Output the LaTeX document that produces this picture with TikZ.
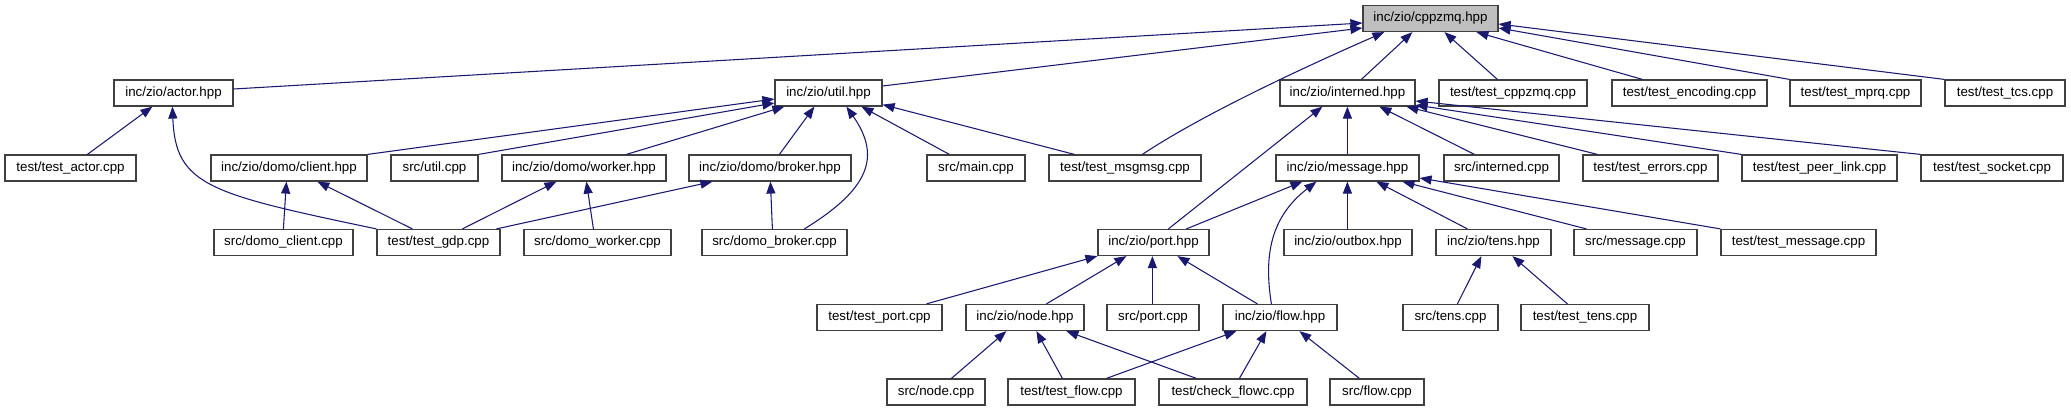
\documentclass[tikz,border=0pt]{standalone}
\usepackage{fontspec}
\setmainfont{Liberation Sans}
\usetikzlibrary{arrows.meta,calc}
\definecolor{edgec}{HTML}{191970}
\definecolor{boxline}{HTML}{404040}
\definecolor{hilite}{HTML}{BFBFBF}
\tikzset{
  box/.style={draw=boxline, line width=0.9pt, fill=white, inner sep=0pt,
    minimum height=26*0.75pt, font=\fontsize{10}{12}\selectfont},
  w/.style={minimum width=#1*0.75pt},
  edge/.style={draw=edgec, line width=0.8pt, {Triangle[length=9pt,width=6.8pt]}-}
}
\begin{document}
\begin{tikzpicture}[x=0.75pt,y=-0.75pt]
\useasboundingbox (0,0) rectangle (2071,411);
% row 0
\node[box,w=135,fill=hilite] (cppzmq) at (1430.5,18.5) {inc/zio/cppzmq.hpp};
% row 1
\node[box,w=119] (actor) at (173.5,93) {inc/zio/actor.hpp};
\node[box,w=107] (util) at (828.5,93) {inc/zio/util.hpp};
\node[box,w=135] (interned) at (1347.5,93) {inc/zio/interned.hpp};
\node[box,w=148] (tcppzmq) at (1513,93) {test/test\_cppzmq.cpp};
\node[box,w=155] (tenc) at (1689.5,93) {test/test\_encoding.cpp};
\node[box,w=131] (tmprq) at (1855.5,93) {test/test\_mprq.cpp};
\node[box,w=120] (ttcs) at (2005,93) {test/test\_tcs.cpp};
% row 2
\node[box,w=131] (tactor) at (70.5,168) {test/test\_actor.cpp};
\node[box,w=156] (client) at (289,168) {inc/zio/domo/client.hpp};
\node[box,w=87] (utilcpp) at (434.5,168) {src/util.cpp};
\node[box,w=164] (worker) at (584,168) {inc/zio/domo/worker.hpp};
\node[box,w=162] (broker) at (770,168) {inc/zio/domo/broker.hpp};
\node[box,w=98] (maincpp) at (976,168) {src/main.cpp};
\node[box,w=152] (msgmsg) at (1125,168) {test/test\_msgmsg.cpp};
\node[box,w=143] (message) at (1347.5,168) {inc/zio/message.hpp};
\node[box,w=115] (internedcpp) at (1501.5,168) {src/interned.cpp};
\node[box,w=135] (terrors) at (1650.5,168) {test/test\_errors.cpp};
\node[box,w=155] (tpeer) at (1819.5,168) {test/test\_peer\_link.cpp};
\node[box,w=142] (tsocket) at (1992,168) {test/test\_socket.cpp};
% row 3
\node[box,w=139] (dclient) at (283.5,242.5) {src/domo\_client.cpp};
\node[box,w=123] (gdp) at (438.5,242.5) {test/test\_gdp.cpp};
\node[box,w=147] (dworker) at (597.5,242.5) {src/domo\_worker.cpp};
\node[box,w=145] (dbroker) at (774.5,242.5) {src/domo\_broker.cpp};
\node[box,w=111] (port) at (1153.5,242.5) {inc/zio/port.hpp};
\node[box,w=128] (outbox) at (1348,242.5) {inc/zio/outbox.hpp};
\node[box,w=115] (tens) at (1493.5,242.5) {inc/zio/tens.hpp};
\node[box,w=123] (msgcpp) at (1635.5,242.5) {src/message.cpp};
\node[box,w=155] (tmessage) at (1798.5,242.5) {test/test\_message.cpp};
% row 4
\node[box,w=125] (tport) at (879.5,317.5) {test/test\_port.cpp};
\node[box,w=118] (node) at (1025,317.5) {inc/zio/node.hpp};
\node[box,w=92] (portcpp) at (1153,317.5) {src/port.cpp};
\node[box,w=114] (flow) at (1280,317.5) {inc/zio/flow.hpp};
\node[box,w=95] (tenscpp) at (1450.5,317.5) {src/tens.cpp};
\node[box,w=128] (ttens) at (1585,317.5) {test/test\_tens.cpp};
% row 5
\node[box,w=98] (nodecpp) at (936,392) {src/node.cpp};
\node[box,w=127] (tflow) at (1071.5,392) {test/test\_flow.cpp};
\node[box,w=148] (checkflowc) at (1233,392) {test/check\_flowc.cpp};
\node[box,w=94] (flowcpp) at (1377,392) {src/flow.cpp};

% edges to cppzmq
\draw[edge] ($(cppzmq.west)+(0,4.5)$) -- ($(actor.east)+(0,-4)$);
\draw[edge] ($(cppzmq.west)+(0,9.5)$) -- ($(util.east)+(0,-7)$);
\draw[edge] ($(cppzmq.south west)+(22,0)$) .. controls +(-80,35) and +(60,-40) .. ($(msgmsg.north west)+(94,0)$);
\draw[edge] ($(cppzmq.south west)+(50,0)$) -- ($(interned.north west)+(82,0)$);
\draw[edge] ($(cppzmq.south west)+(82,0)$) -- ($(tcppzmq.north west)+(59,0)$);
\draw[edge] ($(cppzmq.south west)+(114,0)$) -- ($(tenc.north west)+(31,0)$);
\draw[edge] ($(cppzmq.east)+(0,9.5)$) -- (tmprq.north west);
\draw[edge] ($(cppzmq.east)+(0,5.5)$) -- (ttcs.north west);
% actor
\draw[edge] ($(actor.south west)+(39,0)$) -- ($(tactor.north west)+(83,0)$);
\draw[edge] ($(actor.south west)+(59,0)$) .. controls +(3,79) and +(-167,-35) .. (gdp.north west);
% util
\draw[edge] ($(util.west)+(0,6)$) -- (client.north east);
\draw[edge] ($(util.west)+(0,10)$) -- (utilcpp.north east);
\draw[edge] ($(util.south west)+(10,0)$) -- ($(worker.north west)+(125,0)$);
\draw[edge] ($(util.south west)+(40,0)$) -- ($(broker.north west)+(91,0)$);
\draw[edge] ($(util.south west)+(72,0)$) .. controls +(35,50) and +(65,-40) .. ($(dbroker.north west)+(103,0)$);
\draw[edge] ($(util.south west)+(87,0)$) -- ($(maincpp.north west)+(23,0)$);
\draw[edge] ($(util.south east)+(0,-2)$) -- ($(msgmsg.north west)+(26,0)$);
% domo
\draw[edge] ($(client.south west)+(76,0)$) -- ($(dclient.north west)+(70,0)$);
\draw[edge] ($(client.south west)+(107,0)$) -- ($(gdp.north west)+(36,0)$);
\draw[edge] ($(worker.south west)+(55,0)$) -- ($(gdp.north west)+(86,0)$);
\draw[edge] ($(worker.south west)+(85,0)$) -- ($(dworker.north west)+(70,0)$);
\draw[edge] ($(broker.south west)+(24,0)$) -- ($(gdp.north west)+(120,0)$);
\draw[edge] ($(broker.south west)+(82,0)$) -- ($(dbroker.north west)+(71,0)$);
% interned
\draw[edge] ($(interned.south west)+(43,0)$) -- ($(port.north west)+(71,0)$);
\draw[edge] ($(interned.south west)+(68,0)$) -- ($(message.north west)+(72,0)$);
\draw[edge] ($(interned.south west)+(100,0)$) -- ($(internedcpp.north west)+(31,0)$);
\draw[edge] ($(interned.south west)+(127,0)$) -- ($(terrors.north west)+(15,0)$);
\draw[edge] ($(interned.east)+(0,12)$) -- (tpeer.north west);
\draw[edge] ($(interned.east)+(0,8)$) -- (tsocket.north west);
% message
\draw[edge] ($(message.south west)+(27,0)$) -- ($(port.north west)+(89,0)$);
\draw[edge] ($(message.south west)+(41,0)$) .. controls +(-45,35) and +(-8,-50) .. ($(flow.north west)+(49,0)$);
\draw[edge] ($(message.south west)+(72,0)$) -- ($(outbox.north west)+(64,0)$);
\draw[edge] ($(message.south west)+(101,0)$) -- ($(tens.north west)+(32,0)$);
\draw[edge] ($(message.south west)+(127,0)$) -- ($(msgcpp.north west)+(13,0)$);
\draw[edge] ($(message.east)+(0,10)$) -- (tmessage.north west);
% port
\draw[edge] (port.south west) -- ($(tport.north west)+(110,0)$);
\draw[edge] ($(port.south west)+(29,0)$) -- ($(node.north west)+(81,0)$);
\draw[edge] ($(port.south west)+(55,0)$) -- ($(portcpp.north west)+(46,0)$);
\draw[edge] ($(port.south west)+(80,0)$) -- ($(flow.north west)+(35,0)$);
% node
\draw[edge] ($(node.south west)+(41,0)$) -- ($(nodecpp.north west)+(65,0)$);
\draw[edge] ($(node.south west)+(71,0)$) -- ($(tflow.north west)+(55,0)$);
\draw[edge] ($(node.south west)+(101,0)$) -- ($(checkflowc.north west)+(38,0)$);
% flow
\draw[edge] ($(flow.south west)+(14,0)$) -- ($(tflow.north west)+(99,0)$);
\draw[edge] ($(flow.south west)+(44,0)$) -- ($(checkflowc.north west)+(81,0)$);
\draw[edge] ($(flow.south west)+(77,0)$) -- ($(flowcpp.north west)+(30,0)$);
% tens
\draw[edge] ($(tens.south west)+(46,0)$) -- ($(tenscpp.north west)+(55,0)$);
\draw[edge] ($(tens.south west)+(77,0)$) -- ($(ttens.north west)+(47,0)$);
\end{tikzpicture}
\end{document}
